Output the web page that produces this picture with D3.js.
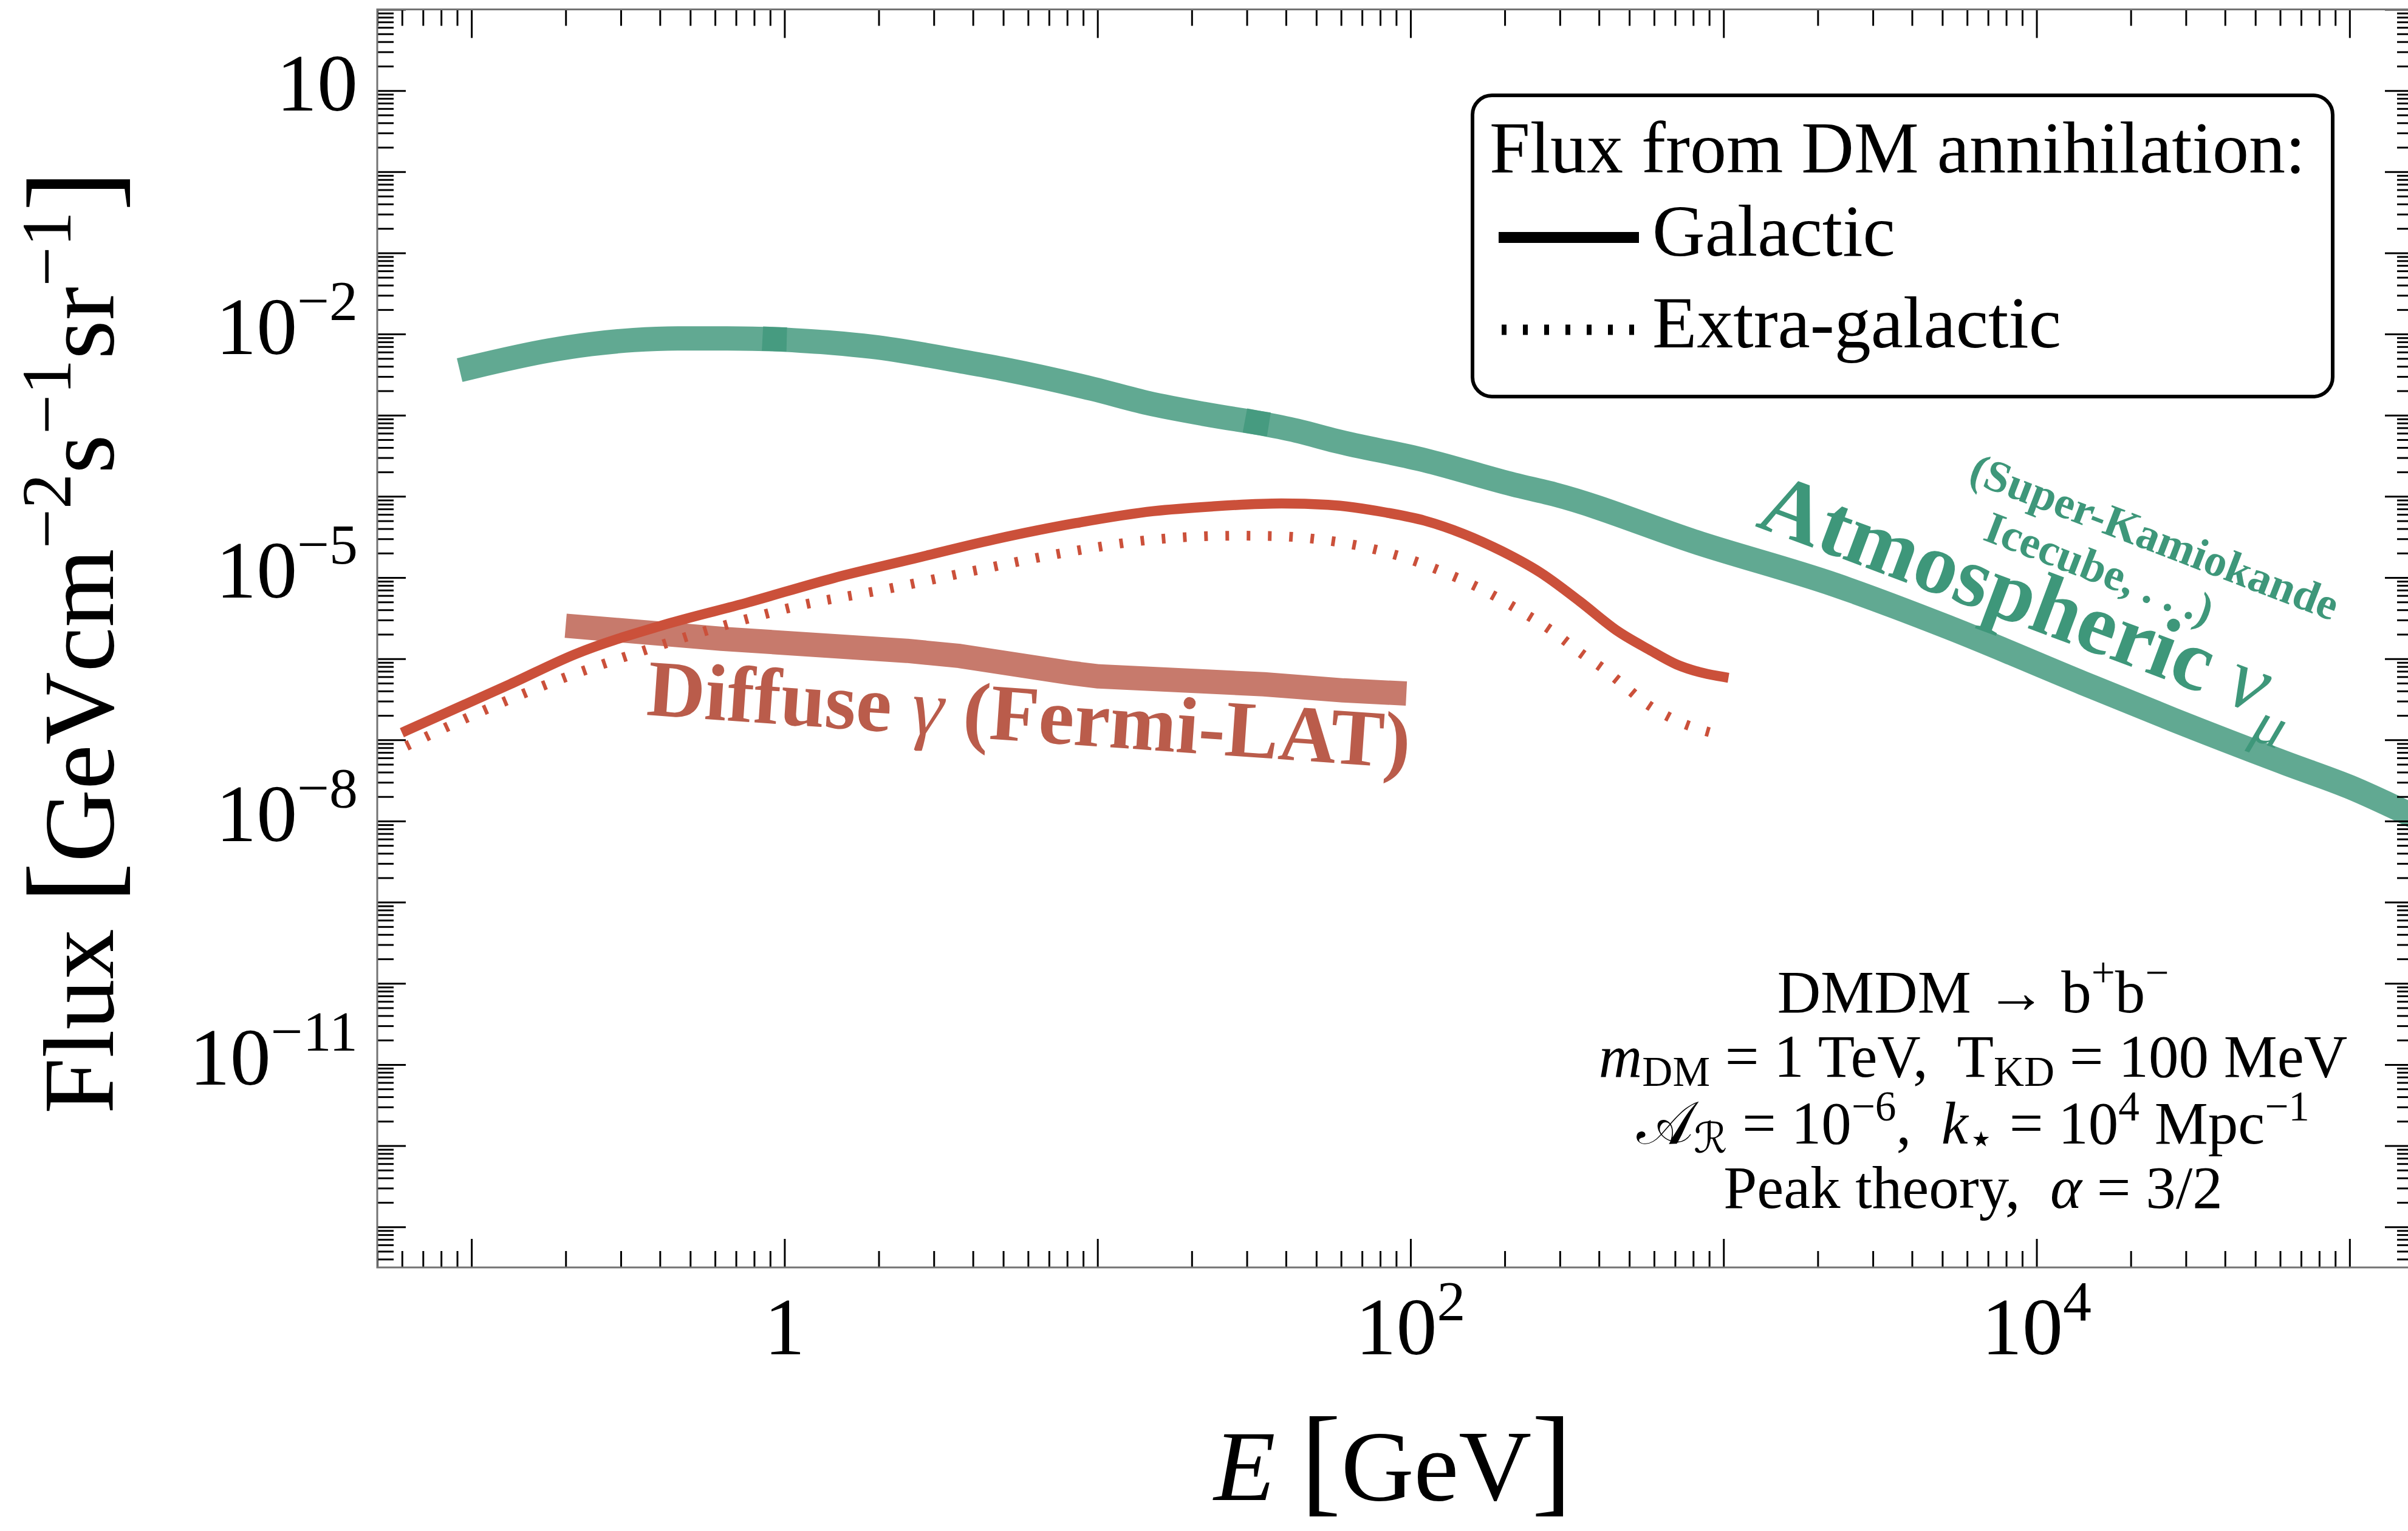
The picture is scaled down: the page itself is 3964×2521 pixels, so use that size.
<!DOCTYPE html>
<html>
<head>
<meta charset="utf-8">
<script src="https://cdn.jsdelivr.net/npm/d3@7"></script>
<style>
  html, body { margin: 0; padding: 0; background: #ffffff; }
  svg { display: block; }
  text { font-family: "Liberation Serif", "DejaVu Serif", "DejaVu Sans", serif; white-space: pre; }
</style>
</head>
<body>
<svg id="chart" width="3964" height="2521"></svg>
<script>
// ---------------- data (E in GeV, flux in GeV cm^-2 s^-1 sr^-1) ----------------
// Atmospheric nu_mu band, three overlapping data pieces
const atmoLow = [[0.1, 3.9e-3], [0.178, 6.3e-3], [0.24, 7.5e-3], [0.33, 8.45e-3], [0.456, 8.85e-3], [0.656, 8.85e-3], [0.93, 8.65e-3]];
const atmoMid = [[0.93, 8.65e-3], [1.42, 7.8e-3], [1.9, 6.98e-3], [3.78, 4.52e-3], [5.1, 3.65e-3], [9.66, 2.11e-3], [14.5, 1.41e-3], [21.8, 1.04e-3], [32.3, 8.1e-4]];
const atmoHigh = [[32.3, 8.1e-4], [43.3, 6.44e-4], [57.7, 4.83e-4], [111, 2.79e-4], [213, 1.40e-4], [288, 1.06e-4], [841, 2.63e-5], [2275, 8.1e-6], [5212, 2.45e-6], [14090, 5.0e-7], [27350, 1.77e-7], [62660, 5.14e-8], [1.0e5, 2.63e-8], [1.62e5, 1.12e-8]];
// Fermi-LAT diffuse gamma band
const fermiDiffuse = [[0.2, 2.55e-6], [0.63, 1.76e-6], [2.46, 1.25e-6], [3.63, 1.08e-6], [8.3, 6.64e-7], [10.1, 6.05e-7], [34.0, 4.84e-7], [61.0, 4.07e-7], [97, 3.72e-7]];
// DM annihilation flux, Galactic (solid)
const galactic = [[0.062, 1.3e-7], [0.1327, 4.84e-7], [0.216, 1.15e-6], [0.406, 2.57e-6], [0.766, 4.95e-6], [1.44, 9.89e-6], [2.51, 1.66e-5], [4.68, 2.95e-5], [8.51, 4.68e-5], [15.1, 6.58e-5], [23.2, 7.52e-5], [38.7, 8.18e-5], [54.5, 7.87e-5], [83.6, 6.32e-5], [111, 5.02e-5], [148, 3.44e-5], [196, 2.11e-5], [261, 1.14e-5], [347, 5.1e-6], [461, 2.16e-6], [579, 1.29e-6], [708, 8.5e-7], [863, 6.65e-7], [1000, 5.96e-7]];
// DM annihilation flux, Extra-galactic (dotted)
const extraGalactic = [[0.062, 8.4e-8], [0.109, 2.29e-7], [0.196, 5.75e-7], [0.351, 1.24e-6], [0.63, 2.52e-6], [1.127, 4.55e-6], [2.12, 7.21e-6], [3.98, 1.2e-5], [7.94, 2.04e-5], [15.1, 2.94e-5], [27.9, 3.28e-5], [38.1, 3.23e-5], [51.4, 2.94e-5], [70.3, 2.41e-5], [93.5, 1.81e-5], [124, 1.22e-5], [166, 7.41e-6], [217, 4.18e-6], [284, 2.18e-6], [357, 1.11e-6], [412, 7.59e-7], [461, 5.37e-7], [566, 2.81e-7], [687, 1.82e-7], [940, 1.19e-7], [1000, 1.12e-7]];

// tick labels
const xTickLabels = [[1, "1", ""], [100, "10", "2"], [1e4, "10", "4"]];
const yTickLabels = [[10, "10", ""], [1e-2, "10", "−2"], [1e-5, "10", "−5"], [1e-8, "10", "−8"], [1e-11, "10", "−11"]];

// legend / annotation text
const legendTitle = "Flux from DM annihilation:";
const legendItems = ["Galactic", "Extra-galactic"];

// ---------------- layout ----------------
const svg = d3.select("#chart");
const L = 621, R = 3973, T = 15.5, B = 2087;
const x = d3.scaleLog().domain([0.05, 1.6e5]).range([L, R]);
const y = d3.scaleLog().domain([Math.pow(10, -13.5), 100]).range([B, T]);

const GREEN = "rgba(65,152,124,0.83)";
const GREEN_TXT = "#3E977A";
const RED = "#CB503A";
const FERMI = "#C77A6C";
const FERMI_TXT = "#BA5C4B";

svg.append("rect").attr("width", 3964).attr("height", 2521).attr("fill", "#fff");

svg.append("defs").append("clipPath").attr("id", "plotclip")
  .append("rect").attr("x", L).attr("y", T).attr("width", R - L).attr("height", B - T);

const plot = svg.append("g").attr("clip-path", "url(#plotclip)");

const lineLin = d3.line().x(d => x(d[0])).y(d => y(d[1]));
const lineSmooth = d3.line().x(d => x(d[0])).y(d => y(d[1])).curve(d3.curveMonotoneX);

[atmoLow, atmoMid, atmoHigh].forEach(seg => {
  plot.append("path").attr("d", lineSmooth(seg)).attr("fill", "none")
    .attr("stroke", GREEN).attr("stroke-width", 40)
    .attr("stroke-linecap", "square").attr("stroke-linejoin", "round");
});

plot.append("path").attr("d", lineLin(fermiDiffuse)).attr("fill", "none")
  .attr("stroke", FERMI).attr("stroke-width", 40)
  .attr("stroke-linecap", "butt").attr("stroke-linejoin", "round");

plot.append("path").attr("d", lineSmooth(extraGalactic)).attr("fill", "none")
  .attr("stroke", RED).attr("stroke-width", 16)
  .attr("stroke-dasharray", "6 29").attr("stroke-linecap", "butt");

plot.append("path").attr("d", lineSmooth(galactic)).attr("fill", "none")
  .attr("stroke", RED).attr("stroke-width", 16.5)
  .attr("stroke-linecap", "square").attr("stroke-linejoin", "round");

// ---------------- ticks ----------------
const isPow10 = v => Math.abs(Math.log10(v) - Math.round(Math.log10(v))) < 1e-9;
const xAll = x.ticks(20), yAll = y.ticks(20);
const xMajor = xAll.filter(isPow10), xMinor = xAll.filter(v => !isPow10(v));
const yMajor = yAll.filter(isPow10), yMinor = yAll.filter(v => !isPow10(v));

function ticks(transform, axis, vals, size) {
  const g = svg.append("g").attr("transform", transform);
  g.call(axis.tickValues(vals).tickSize(size).tickSizeOuter(0).tickFormat(() => ""));
  g.select(".domain").remove();
  g.selectAll(".tick text").remove();
  g.selectAll(".tick line").attr("stroke", "#000").attr("stroke-width", 3);
}
ticks(`translate(0,${B})`, d3.axisTop(x), xMajor, 47);
ticks(`translate(0,${B})`, d3.axisTop(x), xMinor, 27);
ticks(`translate(0,${T})`, d3.axisBottom(x), xMajor, 47);
ticks(`translate(0,${T})`, d3.axisBottom(x), xMinor, 27);
ticks(`translate(${L},0)`, d3.axisRight(y), yMajor, 47);
ticks(`translate(${L},0)`, d3.axisRight(y), yMinor, 27);
ticks(`translate(${R},0)`, d3.axisLeft(y), yMajor, 47);
ticks(`translate(${R},0)`, d3.axisLeft(y), yMinor, 27);

svg.append("rect").attr("x", L).attr("y", T).attr("width", R - L).attr("height", B - T)
  .attr("fill", "none").attr("stroke", "#737373").attr("stroke-width", 3);

// ---------------- rich text helper ----------------
function rich(sel, parts, size) {
  let shift = 0;
  parts.forEach(p => {
    const small = p.sup || p.sub;
    const fs = p.fs || (small ? size * 0.7 : size);
    const target = p.sup ? -size * (p.raise || 0.42) : p.sub ? size * (p.drop || 0.2) : 0;
    const ts = sel.append("tspan").attr("font-size", fs).text(p.t);
    if (target !== shift) ts.attr("dy", target - shift);
    shift = target;
    if (p.it) ts.attr("font-style", "italic");
    if (p.w) ts.attr("font-weight", p.w);
    if (p.ff) ts.attr("font-family", p.ff);
  });
}

// tick labels
const TICK_FS = 134;
xTickLabels.forEach(([v, base, sup]) => {
  const t = svg.append("text").attr("x", x(v)).attr("y", 2230).attr("text-anchor", "middle").attr("font-size", TICK_FS);
  const parts = [{ t: base }];
  if (sup) parts.push({ t: sup, sup: 1 });
  rich(t, parts, TICK_FS);
});
yTickLabels.forEach(([v, base, sup]) => {
  const t = svg.append("text").attr("x", 589).attr("y", y(v) + 33).attr("text-anchor", "end").attr("font-size", TICK_FS);
  const parts = [{ t: base }];
  if (sup) parts.push({ t: sup, sup: 1 });
  rich(t, parts, TICK_FS);
});

// axis labels
const AX_FS = 166;
const xl = svg.append("text").attr("x", (L + R) / 2 - 4).attr("y", 2470).attr("text-anchor", "middle").attr("font-size", AX_FS);
rich(xl, [{ t: "E", it: 1 }, { t: " " }, { t: "[", fs: 200 }, { t: "GeV" }, { t: "]", fs: 200 }], AX_FS);

const yl = svg.append("text").attr("transform", "translate(186,1057) rotate(-90)").attr("text-anchor", "middle").attr("font-size", AX_FS);
rich(yl, [{ t: "Flux " }, { t: "[", fs: 205 }, { t: "GeVcm" }, { t: "−2", sup: 1 }, { t: "s" }, { t: "−1", sup: 1 }, { t: "sr" }, { t: "−1", sup: 1 }, { t: "]", fs: 205 }], AX_FS);

// ---------------- in-plot labels ----------------
const atm = svg.append("text").attr("transform", "translate(2888,866) rotate(20.5)").attr("font-size", 143).attr("fill", GREEN_TXT);
rich(atm, [{ t: "Atmospheric ", w: "bold" }, { t: "ν", it: 1, w: "normal" }, { t: "μ", sub: 1, it: 1, w: "normal", drop: 0.3 }], 143);

svg.append("text").attr("transform", "translate(3238,792) rotate(21)").attr("font-size", 74)
  .attr("font-weight", "bold").attr("fill", GREEN_TXT).text("(Super-Kamiokande");
svg.append("text").attr("transform", "translate(3262,888) rotate(21)").attr("font-size", 74)
  .attr("font-weight", "bold").attr("fill", GREEN_TXT).text("Icecube, . . .)");

const dif = svg.append("text").attr("transform", "translate(1063,1177) rotate(4)").attr("font-size", 132).attr("fill", FERMI_TXT);
rich(dif, [{ t: "Diffuse ", w: "bold" }, { t: "γ", it: 1, w: "normal" }, { t: " (Fermi-LAT)", w: "bold" }], 132);

// ---------------- legend ----------------
const LEG_FS = 120;
const leg = svg.append("g");
leg.append("rect").attr("x", 2424).attr("y", 157).attr("width", 1416).attr("height", 496)
  .attr("rx", 32).attr("fill", "#fff").attr("stroke", "#000").attr("stroke-width", 6);
leg.append("text").attr("x", 2452).attr("y", 284).attr("font-size", LEG_FS).text(legendTitle);
leg.append("line").attr("x1", 2467).attr("x2", 2698).attr("y1", 391).attr("y2", 391)
  .attr("stroke", "#000").attr("stroke-width", 18);
leg.append("text").attr("x", 2720).attr("y", 421).attr("font-size", LEG_FS).text(legendItems[0]);
leg.append("line").attr("x1", 2472).attr("x2", 2700).attr("y1", 543).attr("y2", 543)
  .attr("stroke", "#000").attr("stroke-width", 17).attr("stroke-dasharray", "8 27");
leg.append("text").attr("x", 2720).attr("y", 572).attr("font-size", LEG_FS).text(legendItems[1]);

// ---------------- annotation ----------------
const AN_FS = 99, AN_X = 3248;
const annLines = [
  [[{ t: "DMDM → b" }, { t: "+", sup: 1 }, { t: "b" }, { t: "−", sup: 1 }], 1667],
  [[{ t: "m", it: 1 }, { t: "DM", sub: 1, drop: 0.15 }, { t: " = 1 TeV,  T" }, { t: "KD", sub: 1, drop: 0.15 }, { t: " = 100 MeV" }], 1773],
  [[{ t: "𝒜" }, { t: "ℛ", sub: 1, drop: 0.15 }, { t: " = 10" }, { t: "−6", sup: 1, raise: 0.38 }, { t: ",  " }, { t: "k", it: 1 }, { t: "⋆", sub: 1, drop: 0.15 }, { t: " = 10" }, { t: "4", sup: 1, raise: 0.38 }, { t: " Mpc" }, { t: "−1", sup: 1, raise: 0.38 }], 1883],
  [[{ t: "Peak theory,  " }, { t: "α", it: 1 }, { t: " = 3/2" }], 1989]
];
annLines.forEach(([parts, yy]) => {
  const t = svg.append("text").attr("x", AN_X).attr("y", yy).attr("text-anchor", "middle").attr("font-size", AN_FS);
  rich(t, parts, AN_FS);
});
</script>
</body>
</html>
